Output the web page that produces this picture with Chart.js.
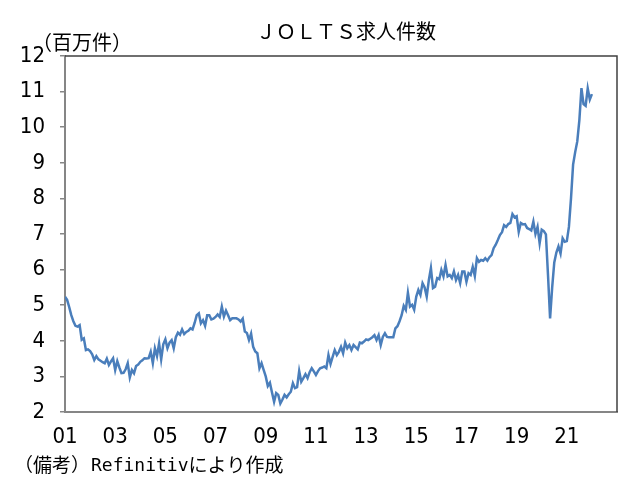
<!DOCTYPE html>
<html>
<head>
<meta charset="utf-8">
<script src="https://cdn.jsdelivr.net/npm/chart.js@4"></script>
<style>
  html, body { margin: 0; padding: 0; background: #fff; }
  #wrap { width: 633px; height: 486px; position: relative; }
</style>
</head>
<body>
<div id="wrap"><canvas id="c"></canvas></div>
<script>
// JOLTS求人件数（百万件）、2000年12月〜2021年12月の月次
const dec2000 = [5.24]
const y2001 = [5.15, 4.95, 4.72, 4.55, 4.42, 4.40, 4.44, 4.03, 4.07, 3.74, 3.76, 3.71]
const y2002 = [3.62, 3.46, 3.57, 3.48, 3.44, 3.40, 3.37, 3.50, 3.32, 3.42, 3.51, 3.18]
const y2003 = [3.43, 3.25, 3.09, 3.10, 3.20, 3.37, 2.97, 3.18, 3.09, 3.29, 3.33, 3.41]
const y2004 = [3.45, 3.51, 3.50, 3.51, 3.69, 3.37, 3.79, 3.57, 3.93, 3.48, 3.90, 4.04]
const y2005 = [3.79, 3.95, 4.02, 3.79, 4.10, 4.23, 4.17, 4.32, 4.19, 4.25, 4.28, 4.35]
const y2006 = [4.32, 4.50, 4.72, 4.77, 4.49, 4.58, 4.42, 4.72, 4.72, 4.60, 4.62, 4.67]
const y2007 = [4.74, 4.67, 4.96, 4.68, 4.85, 4.72, 4.58, 4.63, 4.63, 4.63, 4.60, 4.54]
const y2008 = [4.62, 4.26, 4.22, 4.02, 4.20, 3.83, 3.70, 3.65, 3.23, 3.37, 3.18, 3.00]
const y2009 = [2.73, 2.82, 2.55, 2.29, 2.53, 2.48, 2.24, 2.35, 2.48, 2.41, 2.50, 2.57]
const y2010 = [2.81, 2.67, 2.70, 3.15, 2.85, 2.95, 3.06, 2.95, 3.12, 3.23, 3.14, 3.04]
const y2011 = [3.15, 3.23, 3.25, 3.28, 3.23, 3.60, 3.35, 3.55, 3.74, 3.60, 3.69, 3.83]
const y2012 = [3.65, 3.95, 3.79, 3.88, 3.74, 3.88, 3.82, 3.76, 3.95, 3.93, 3.98, 4.04]
const y2013 = [4.02, 4.06, 4.10, 4.16, 4.02, 4.16, 3.88, 4.11, 4.21, 4.11, 4.10, 4.10]
const y2014 = [4.10, 4.35, 4.41, 4.55, 4.72, 4.98, 4.87, 5.35, 4.96, 5.01, 4.87, 5.24]
const y2015 = [5.43, 5.29, 5.62, 5.50, 5.24, 5.70, 6.04, 5.48, 5.52, 5.76, 5.73, 5.99]
const y2016 = [5.81, 6.13, 5.81, 5.85, 5.76, 5.95, 5.71, 5.85, 5.62, 5.95, 5.95, 5.66]
const y2017 = [5.90, 5.85, 6.08, 5.82, 6.32, 6.22, 6.27, 6.25, 6.32, 6.25, 6.35, 6.41]
const y2018 = [6.60, 6.70, 6.83, 6.97, 7.05, 7.25, 7.20, 7.28, 7.31, 7.56, 7.47, 7.50]
const y2019 = [7.06, 7.31, 7.27, 7.28, 7.17, 7.14, 7.10, 7.35, 7.00, 7.20, 6.74, 7.12]
const y2020 = [7.08, 6.99, 5.85, 4.63, 5.50, 6.20, 6.48, 6.65, 6.45, 6.88, 6.78, 6.80]
const y2021 = [7.20, 8.00, 8.95, 9.30, 9.60, 10.20, 11.10, 10.65, 10.60, 11.09, 10.78, 10.93]

const yearLabels = ['01', '03', '05', '07', '09', '11', '13', '15', '17', '19', '21']
const yTicks = [2, 3, 4, 5, 6, 7, 8, 9, 10, 11, 12]

const openings = [].concat(dec2000, y2001, y2002, y2003, y2004, y2005, y2006, y2007, y2008,
  y2009, y2010, y2011, y2012, y2013, y2014, y2015, y2016, y2017, y2018, y2019, y2020, y2021)

const gothic = '"Noto Sans CJK JP", sans-serif'
const narrow = '"Liberation Sans Narrow", "DejaVu Sans Condensed", sans-serif'
const mono = '"DejaVu Sans Mono", "Liberation Mono", monospace'

/* Titre, unité, note et cadre du graphique */
const decor = {
  id: 'decor',
  afterDraw(chart) {
    const { ctx, chartArea: a } = chart
    ctx.save()
    ctx.strokeStyle = '#404040'
    ctx.lineWidth = 1.5
    ctx.beginPath()
    ctx.moveTo(a.left, a.top)
    ctx.lineTo(a.right, a.top)
    ctx.lineTo(a.right, a.bottom)
    ctx.stroke()

    ctx.fillStyle = '#000'
    ctx.textBaseline = 'middle'
    ctx.textAlign = 'center'
    ctx.font = '20px ' + gothic
    ctx.fillText('ＪＯＬＴＳ求人件数', 346, 31)

    ctx.textAlign = 'left'
    ctx.font = '20px ' + gothic
    ctx.fillText('（百万件）', 32, 42)

    // note en trois morceaux pour imiter la police à chasse fixe
    let x = 14
    ctx.font = '19px ' + gothic
    ctx.fillText('（備考）', x, 465)
    x += ctx.measureText('（備考）').width + 1
    ctx.font = '18px ' + mono
    ctx.fillText('Refinitiv', x, 466)
    x += ctx.measureText('Refinitiv').width
    ctx.font = '19px ' + gothic
    ctx.fillText('により作成', x, 465)
    ctx.restore()
  }
}

new Chart(document.querySelector('#c'), {
  type: 'line',
  data: {
    datasets: [{
      data: openings.map((v, i) => ({ x: i, y: v })),
      borderColor: '#4a7ebb',
      borderWidth: 2.5,
      pointRadius: 0,
      tension: 0,
      fill: false
    }]
  },
  options: {
    responsive: true,
    maintainAspectRatio: false,
    animation: false,
    events: [],
    layout: { padding: { left: 0, right: 16, top: 56, bottom: 34 } },
    plugins: { legend: { display: false }, tooltip: { enabled: false }, title: { display: false } },
    scales: {
      x: {
        type: 'linear',
        min: 0,
        max: 264,
        afterFit: (s) => { s.height = 40 },
        afterBuildTicks: (s) => { s.ticks = yearLabels.map((l, i) => ({ value: i * 24 })) },
        ticks: {
          autoSkip: false,
          maxRotation: 0,
          padding: 12,
          color: '#000',
          font: { family: narrow, size: 22 },
          callback: (v) => yearLabels[v / 24]
        },
        grid: { display: false, drawTicks: false },
        border: { display: true, color: '#868686', width: 2 }
      },
      y: {
        min: 2,
        max: 12,
        afterFit: (s) => { s.width = 65 },
        afterBuildTicks: (s) => { s.ticks = yTicks.map(v => ({ value: v })) },
        ticks: {
          padding: 15,
          color: '#000',
          font: { family: narrow, size: 22 }
        },
        grid: { drawOnChartArea: false, drawTicks: true, tickLength: 5, color: '#868686', lineWidth: 1.5 },
        border: { display: true, color: '#868686', width: 2 }
      }
    }
  },
  plugins: [decor]
})
</script>
</body>
</html>
